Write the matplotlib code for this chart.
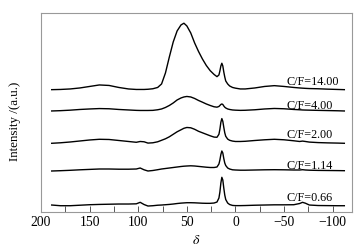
import matplotlib
matplotlib.use('Agg')
import matplotlib.pyplot as plt
from matplotlib.ticker import MultipleLocator

plt.rcParams['font.family'] = ['Liberation Serif', 'DejaVu Serif']
plt.rcParams['mathtext.fontset'] = 'stix'

# chemical shift grid (ppm), shared by every spectrum
delta = [189, 180, 170, 160, 150, 140, 130, 120, 110, 102, 98, 94, 90, 85, 80, 76,
         72, 68, 64, 60, 56, 53, 50, 46, 42, 38, 34, 30, 26, 22, 19, 17, 16, 15,
         14, 13, 12, 11, 10, 8, 6, 3, 0, -5, -10, -20, -30, -40, -50, -60, -66,
         -69, -72, -76, -85, -95, -105, -112]

labels = ['C/F=0.66', 'C/F=1.14', 'C/F=2.00', 'C/F=4.00', 'C/F=14.00']

cf_066 = [1, 0.3, 0.3, 0.8, 1.3, 1.6, 1.8, 2, 2, 2.2, 3.7, 1.5, 0, 0.3, 0.8, 1,
          1.3, 1.6, 2, 2.5, 2.9, 3.1, 3.3, 3.3, 3.2, 3, 2.8, 2.7, 2.7, 3, 4, 8, 14, 23,
          28.7, 26, 18, 11, 6.5, 3, 1.5, 0.6, 0.4, 0.4, 0.5, 0.8, 1, 1.2, 1.2, 1.3, 2.5,
          3.7, 2.8, 1, 0.5, 0.4, 0.3, 0.3]
cf_114 = [0, 0.3, 0.7, 1.2, 1.6, 2, 2, 1.8, 1.8, 2, 3, 1.2, 0, 0.5, 1.3, 2,
          2.5, 3, 3.5, 4, 4.5, 4.8, 5, 5.2, 5, 4.6, 4.2, 3.8, 3.5, 3.5, 4, 7, 11, 16.5,
          20, 18, 12.5, 8, 5.5, 3, 2, 1.2, 1, 0.8, 0.8, 1, 1.2, 1.3, 1.2, 1, 1,
          1.3, 1, 0.8, 0.6, 0.5, 0.4, 0.3]
cf_200 = [0, 0.5, 1.3, 2.3, 3.3, 4, 3.8, 2.8, 1.8, 1, 1.8, 1.5, 0.2, 0.5, 1.5, 3,
          4.5, 6.5, 9, 11.5, 13.5, 15, 15.8, 15.5, 14, 12, 10.5, 9, 7.5, 6.2, 6, 9, 14, 21,
          24.7, 22, 16, 10.5, 7, 4.2, 3, 2.2, 1.8, 1.8, 2, 2.8, 3.5, 4, 3.5, 2.5, 1.8,
          2.2, 1.8, 1.2, 0.7, 0.4, 0.2, 0]
cf_400 = [0, 0.3, 0.8, 1.5, 2, 2.4, 2.2, 1.5, 1, 0.6, 0.5, 0.5, 0.5, 0.6, 1.2, 2,
          3.5, 5.5, 8, 11, 13, 14, 14.5, 14, 12.5, 10.5, 8.8, 7, 5.5, 4.2, 3.8, 4.5, 5.5, 6.5,
          7, 6.5, 5, 3.8, 3, 2, 1.5, 1, 0.8, 0.6, 0.7, 1.2, 2, 2.5, 2.2, 1.5, 1.2,
          1, 0.9, 0.8, 0.6, 0.4, 0.2, 0]
cf_1400 = [0.3, 0.5, 1, 2, 3.5, 5, 4.5, 2.5, 1, 0.5, 0.5, 0.5, 0.7, 1.2, 2.5, 6,
           17, 33, 48, 59, 65, 66.7, 64, 57, 47, 38.5, 31, 24.5, 19.3, 15.5, 13.3, 15, 19, 24,
           26.7, 24, 18, 13, 9, 6, 4, 2.5, 1.8, 1, 1, 2, 3.5, 4.3, 3.5, 2.5, 2,
           1.8, 1.6, 1.4, 1.2, 0.8, 0.5, 0.3]

spectra = [cf_066, cf_114, cf_200, cf_400, cf_1400]
offsets = [6, 41, 68.7, 101, 122]
label_y = [14.7, 47.3, 78, 107, 131.3]

fig = plt.figure(figsize=(3.63, 2.53), dpi=100)
ax = fig.add_axes([0.113, 0.158, 0.857, 0.787])

for spec, off, lab, ly in zip(spectra, offsets, labels, label_y):
    ax.plot(delta, [v + off for v in spec], color='black', lw=1.0)
    ax.text(-52, ly, lab, fontsize=8.7, va='center', ha='left')

ax.set_xlim(200, -120)
ax.set_ylim(0, 199)
ax.xaxis.set_minor_locator(MultipleLocator(25))
ax.tick_params(axis='x', which='both', direction='in', length=4, width=0.7,
               color='#555555', labelsize=9.8, pad=2)
ax.set_xticks([200, 150, 100, 50, 0, -50, -100])
ax.set_xticklabels(['200', '150', '100', '50', '0', '\u221250', '\u2212100'])
ax.set_yticks([])
for s in ax.spines.values():
    s.set_color('#999999')
    s.set_linewidth(0.8)

ax.set_xlabel('$\\delta$', fontsize=10, labelpad=4)
ax.set_ylabel('Intensity /(a.u.)', fontsize=9.4, labelpad=11)
ax.yaxis.set_label_coords(-0.065, 0.46)

fig.savefig('out.png', dpi=100)
